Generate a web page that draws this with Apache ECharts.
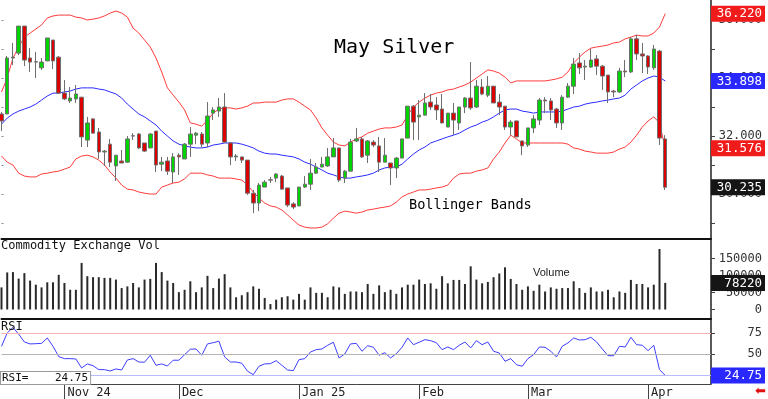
<!DOCTYPE html>
<html>
<head>
<meta charset="utf-8">
<script src="https://cdn.jsdelivr.net/npm/echarts@6/dist/echarts.min.js"></script>
<style>
  html, body { margin: 0; padding: 0; background: #fff; }
  #chart { width: 768px; height: 399px; }
</style>
</head>
<body>
<div id="chart"></div>
<script>
// trading days shown on the axis (the last April days are still empty)
const tradingDays = [
  ['2024-10', [17, 18, 21, 22, 23, 24, 25, 28, 29, 30, 31]],
  ['2024-11', [1, 4, 5, 6, 7, 8, 11, 12, 13, 14, 15, 18, 19, 20, 21, 22, 25, 26, 27, 29]],
  ['2024-12', [2, 3, 4, 5, 6, 9, 10, 11, 12, 13, 16, 17, 18, 19, 20, 23, 24, 26, 27, 30, 31]],
  ['2025-01', [2, 3, 6, 7, 8, 9, 10, 13, 14, 15, 16, 17, 21, 22, 23, 24, 27, 28, 29, 30, 31]],
  ['2025-02', [3, 4, 5, 6, 7, 10, 11, 12, 13, 14, 18, 19, 20, 21, 24, 25, 26, 27, 28]],
  ['2025-03', [3, 4, 5, 6, 7, 10, 11, 12, 13, 14, 17, 18, 19, 20, 21, 24, 25, 26, 27, 28, 31]],
  ['2025-04', [1, 2, 3, 4, 7, 8, 9, 10, 11, 14, 15, 16]],
];
const monthLabels = {
  '2024-11': 'Nov 24', '2024-12': 'Dec', '2025-01': 'Jan 25',
  '2025-02': 'Feb', '2025-03': 'Mar', '2025-04': 'Apr',
};

// [open, close, low, high]
const ohlc = [
  [32.76, 32.52, 32.17, 32.83], [32.76, 34.69, 32.76, 34.76], [34.69, 34.72, 34.45, 35.21], [34.86, 35.79, 34.79, 35.79],
  [35.79, 34.62, 34.41, 35.79], [34.69, 34.55, 34.21, 35.03], [34.56, 34.55, 34.00, 34.90], [34.35, 34.55, 34.28, 34.69],
  [34.59, 35.38, 34.59, 35.38], [35.31, 34.59, 34.31, 35.31], [34.72, 33.48, 33.45, 34.76], [33.48, 33.28, 33.24, 33.93],
  [33.21, 33.31, 33.14, 33.69], [33.28, 33.45, 33.14, 33.76], [33.34, 31.97, 31.62, 33.34], [31.86, 32.45, 31.62, 32.66],
  [32.59, 32.10, 32.10, 32.62], [32.14, 31.45, 31.21, 32.28], [31.45, 31.48, 30.97, 31.52], [31.72, 31.10, 30.93, 31.90],
  [30.97, 31.34, 30.45, 31.34], [31.14, 31.07, 31.07, 31.52], [31.10, 31.90, 31.07, 32.00], [32.00, 32.01, 31.86, 32.10],
  [32.07, 31.59, 31.55, 32.10], [31.76, 31.48, 31.45, 31.76], [31.59, 32.07, 31.59, 32.10], [32.17, 31.00, 30.76, 32.17],
  [31.03, 31.10, 30.79, 31.28], [31.14, 30.79, 30.66, 31.28], [30.76, 31.28, 30.38, 31.41], [31.34, 31.28, 30.66, 31.41],
  [31.21, 31.72, 31.21, 31.76], [31.72, 32.07, 31.28, 32.31], [32.03, 32.10, 31.72, 32.14], [32.07, 31.72, 31.62, 32.14],
  [31.76, 32.69, 31.62, 33.17], [32.79, 32.90, 32.55, 33.00], [32.86, 33.00, 32.66, 33.31], [33.00, 31.79, 31.76, 33.48],
  [31.76, 31.28, 31.00, 31.79], [31.28, 31.31, 31.14, 31.38], [31.28, 31.17, 31.07, 31.28], [31.17, 30.03, 29.97, 31.17],
  [30.03, 29.69, 29.34, 30.14], [29.69, 30.31, 29.41, 30.38], [30.24, 30.41, 30.24, 30.48], [30.49, 30.48, 30.38, 30.59],
  [30.55, 30.69, 30.41, 30.72], [30.62, 30.17, 30.14, 30.66], [30.21, 29.62, 29.55, 30.21], [29.66, 29.55, 29.48, 29.72],
  [29.59, 30.24, 29.59, 30.24], [30.24, 30.34, 30.21, 30.62], [30.34, 30.72, 30.14, 31.21], [30.72, 30.93, 30.69, 31.07],
  [30.93, 31.03, 30.93, 31.28], [30.97, 31.28, 30.93, 31.59], [31.28, 31.59, 31.28, 31.93], [31.59, 30.48, 30.41, 31.59],
  [30.55, 30.79, 30.38, 30.83], [30.79, 31.79, 30.79, 31.90], [31.83, 31.90, 31.79, 32.28], [31.90, 31.28, 31.24, 31.97],
  [31.34, 31.83, 31.07, 31.86], [31.79, 31.69, 31.62, 31.86], [31.66, 31.10, 30.76, 31.97], [31.10, 31.34, 31.10, 31.93],
  [31.07, 30.90, 30.31, 31.07], [30.90, 31.24, 30.55, 31.28], [31.24, 31.90, 31.24, 31.90], [31.93, 33.03, 31.93, 33.03],
  [33.03, 32.48, 31.86, 33.07], [32.66, 32.72, 31.86, 33.24], [32.72, 33.14, 32.72, 33.48], [33.17, 33.00, 32.90, 33.45],
  [33.07, 32.90, 32.55, 33.34], [32.93, 32.45, 32.45, 33.45], [32.31, 32.79, 32.31, 32.79], [32.79, 32.55, 32.03, 33.14],
  [32.45, 33.00, 32.21, 33.00], [33.00, 33.31, 32.79, 33.34], [33.31, 32.97, 32.90, 34.55], [33.00, 33.72, 32.97, 33.93],
  [33.69, 33.45, 33.41, 33.97], [33.41, 33.72, 33.34, 34.07], [33.72, 33.14, 33.14, 33.72], [33.17, 33.00, 32.72, 33.45],
  [33.03, 32.31, 32.21, 33.03], [32.31, 32.48, 32.03, 32.55], [32.52, 31.97, 31.97, 32.52], [31.83, 31.66, 31.34, 31.83],
  [31.69, 32.28, 31.62, 32.28], [32.28, 32.59, 32.10, 32.72], [32.55, 33.24, 32.38, 33.31], [33.24, 33.21, 32.79, 33.34],
  [33.21, 32.90, 32.55, 33.31], [32.93, 32.45, 32.28, 32.97], [32.45, 33.34, 32.21, 33.41], [33.34, 33.72, 33.31, 33.83],
  [33.72, 34.48, 33.45, 34.69], [34.52, 34.35, 34.14, 34.86], [34.38, 34.41, 33.93, 34.62], [34.38, 34.62, 34.35, 35.00],
  [34.66, 34.41, 34.10, 34.79], [34.41, 34.07, 33.59, 34.45], [34.10, 33.52, 33.14, 34.10], [33.55, 33.52, 33.34, 33.59],
  [33.52, 34.24, 33.48, 34.35], [34.24, 34.21, 34.03, 34.62], [34.21, 35.35, 34.17, 35.41], [35.35, 34.83, 34.62, 35.48],
  [34.83, 34.76, 34.17, 35.21], [34.76, 34.38, 34.14, 34.79], [34.35, 35.00, 34.28, 35.14], [34.93, 31.93, 31.69, 34.97],
  [31.90, 30.235, 30.14, 32.03],
];

const bandUpper = [
  33.52, 34.00, 34.69, 35.07, 35.41, 35.55, 35.69, 35.83, 36.07, 36.14,
  36.17, 36.17, 36.17, 36.10, 36.07, 36.00, 36.03, 36.07, 36.14, 36.24,
  36.31, 36.24, 36.10, 35.72, 35.55, 35.31, 35.07, 34.69, 34.21, 33.66,
  33.41, 33.17, 32.90, 32.45, 32.41, 32.34, 32.55, 32.79, 32.93, 32.97,
  32.97, 32.93, 32.97, 33.03, 33.14, 33.14, 33.17, 33.17, 33.17, 33.24,
  33.28, 33.28, 33.17, 33.03, 32.90, 32.62, 32.28, 32.03, 31.79, 31.69,
  31.66, 31.79, 31.90, 31.97, 32.10, 32.17, 32.24, 32.28, 32.28, 32.31,
  32.38, 32.72, 33.00, 33.17, 33.31, 33.41, 33.48, 33.52, 33.59, 33.62,
  33.69, 33.76, 33.86, 34.00, 34.14, 34.28, 34.24, 34.17, 34.03, 33.83,
  33.90, 33.90, 33.90, 33.90, 33.90, 33.90, 33.93, 33.97, 34.03, 34.21,
  34.52, 34.72, 34.90, 35.03, 35.07, 35.10, 35.14, 35.21, 35.24, 35.35,
  35.41, 35.48, 35.45, 35.45, 35.55, 35.76, 36.22,
];
const bandMiddle = [
  32.41, 32.62, 32.76, 32.86, 32.93, 33.00, 33.10, 33.24, 33.38, 33.48,
  33.48, 33.52, 33.55, 33.62, 33.66, 33.66, 33.66, 33.62, 33.59, 33.52,
  33.45, 33.31, 33.10, 32.93, 32.76, 32.66, 32.52, 32.38, 32.17, 32.00,
  31.83, 31.72, 31.66, 31.62, 31.59, 31.59, 31.62, 31.69, 31.72, 31.76,
  31.76, 31.76, 31.72, 31.66, 31.59, 31.48, 31.41, 31.38, 31.38, 31.34,
  31.31, 31.28, 31.21, 31.10, 31.03, 30.93, 30.83, 30.72, 30.66, 30.59,
  30.55, 30.55, 30.59, 30.62, 30.66, 30.72, 30.83, 30.90, 30.93, 30.93,
  31.03, 31.21, 31.38, 31.52, 31.62, 31.76, 31.83, 31.90, 31.97, 32.03,
  32.10, 32.21, 32.31, 32.38, 32.48, 32.55, 32.66, 32.79, 32.90, 32.93,
  32.93, 32.86, 32.83, 32.79, 32.83, 32.83, 32.83, 32.83, 32.86, 32.93,
  33.00, 33.03, 33.10, 33.14, 33.17, 33.21, 33.24, 33.28, 33.31, 33.41,
  33.62, 33.76, 33.90, 34.00, 34.07, 34.03, 33.898,
];
const bandLower = [
  31.31, 31.10, 31.00, 30.72, 30.62, 30.59, 30.59, 30.69, 30.72, 30.76,
  30.79, 30.86, 30.93, 31.21, 31.31, 31.34, 31.28, 31.17, 31.00, 30.76,
  30.55, 30.31, 30.17, 30.14, 30.07, 30.03, 30.00, 30.00, 30.24, 30.31,
  30.38, 30.41, 30.52, 30.72, 30.72, 30.72, 30.66, 30.62, 30.55, 30.55,
  30.55, 30.52, 30.48, 30.31, 30.07, 29.86, 29.69, 29.59, 29.55, 29.45,
  29.28, 29.10, 28.93, 28.86, 28.83, 28.83, 28.86, 28.97, 29.17, 29.34,
  29.41, 29.38, 29.34, 29.38, 29.45, 29.48, 29.52, 29.55, 29.59, 29.72,
  29.90, 30.00, 30.07, 30.14, 30.14, 30.17, 30.21, 30.24, 30.31, 30.55,
  30.69, 30.72, 30.72, 30.79, 30.83, 30.90, 31.21, 31.45, 31.76, 32.03,
  31.90, 31.76, 31.76, 31.76, 31.76, 31.76, 31.76, 31.76, 31.76, 31.72,
  31.59, 31.55, 31.48, 31.45, 31.41, 31.41, 31.41, 31.45, 31.55, 31.62,
  31.79, 32.03, 32.31, 32.52, 32.66, 32.45, 31.576,
];

const volume = [
  65000, 109000, 110000, 91000, 107000, 85000, 73000, 65000, 80000, 80000,
  102000, 78000, 58000, 58000, 137000, 98000, 95000, 95000, 93000, 93000,
  88000, 63000, 68000, 78000, 65000, 88000, 90000, 137000, 110000, 85000,
  78000, 51000, 58000, 83000, 51000, 65000, 99000, 63000, 91000, 104000,
  65000, 36000, 42000, 51000, 68000, 61000, 34000, 16000, 29000, 36000,
  39000, 29000, 46000, 29000, 65000, 49000, 49000, 36000, 68000, 65000,
  46000, 53000, 53000, 51000, 75000, 46000, 71000, 51000, 58000, 46000,
  65000, 73000, 73000, 88000, 75000, 77000, 61000, 98000, 77000, 87000,
  87000, 75000, 127000, 88000, 77000, 81000, 95000, 106000, 124000, 90000,
  75000, 58000, 68000, 55000, 73000, 53000, 65000, 61000, 63000, 63000,
  83000, 63000, 49000, 65000, 53000, 53000, 58000, 36000, 53000, 49000,
  87000, 75000, 75000, 65000, 73000, 178000, 78220,
];

const rsi = [
  59.5, 75.4, 82, 74, 64.6, 62.3, 62.6, 63, 69.4, 59.5,
  47.2, 44.8, 44.8, 44.4, 33.7, 38.5, 36.4, 31.7, 31.7, 30.1,
  32.5, 31.3, 43.2, 44.8, 40.8, 40.5, 48.8, 36.9, 38.5, 36.1,
  42.9, 42.9, 49.5, 56, 56.3, 48.8, 62.3, 63.8, 65.5, 46.8,
  40.8, 40.8, 39.3, 29.8, 25.7, 35.7, 38.5, 38.8, 42.4, 36.9,
  31.3, 30.5, 43.6, 44.8, 52.7, 55.5, 56.3, 60.7, 64.3, 45.6,
  50.4, 62.3, 63, 53.6, 60.2, 58.3, 48.8, 51.9, 45.6, 50.7,
  58.3, 69.4, 61.4, 64.3, 67.4, 66.2, 63.8, 55.5, 58.7, 55.5,
  60.7, 64.6, 57.5, 66.2, 61.4, 64.6, 53.6, 51.5, 41.7, 44.8,
  37.6, 35.7, 44.8, 49.5, 58.7, 58.3, 53.6, 46.8, 59.5, 63.5,
  69.4, 67, 67.4, 70.2, 64.6, 56.3, 48.3, 48.3, 59.5, 58.7,
  70.2, 61.4, 60.7, 54.3, 60.7, 31.7, 24.75,
];

const priceTicks = [29, 30, 31, 32, 33, 34, 35, 36];
const priceLabels = [30, 32, 34, 36];
const volumeLabels = [0, 50000, 100000, 150000];
const rsiLabels = [50, 75];
const rsiLevels = [75, 50, 25];

// last values shown in the boxes on the right
const priceTags = [36.22, 33.898, 31.576, 30.235];
const priceTagKinds = ['red', 'blue', 'red', 'black'];
const volumeTags = [78220];
const rsiTags = [24.75];

const MONO = '"DejaVu Sans Mono", monospace';
const AXIS_TEXT = { fontFamily: MONO, fontSize: 12, color: '#333' };

const dates = tradingDays.flatMap(([month, days]) =>
  days.map((d) => month + '-' + String(d).padStart(2, '0')));
const monthStarts = new Set(
  dates.map((d, i) => (i > 0 && d.slice(0, 7) !== dates[i - 1].slice(0, 7) ? i : -1)).filter((i) => i >= 0),
);
const isMonthStart = (idx) => monthStarts.has(idx);

const tagStyle = (bg) => ({
  backgroundColor: bg, color: '#fff', fontFamily: MONO, fontSize: 12.5,
  width: 48, align: 'right', padding: [2, 3, 1, 3],
});
const tagRich = { red: tagStyle('#f01c1c'), blue: tagStyle('#2828ff'), black: tagStyle('#151515') };

function tagAxis(gridIndex, min, max, values, kinds, digits) {
  return {
    type: 'value', gridIndex, position: 'right', min, max, z: 10,
    axisLine: { show: false }, axisTick: { show: false }, splitLine: { show: false },
    axisLabel: {
      customValues: values, margin: 54, align: 'right',
      formatter: (v) => {
        const i = values.findIndex((t) => Math.abs(t - v) < 1e-6);
        return '{' + kinds[Math.max(i, 0)] + '|' + v.toFixed(digits) + '}';
      },
      rich: tagRich,
    },
  };
}

function plainXAxis(gridIndex, lineWidth) {
  return {
    type: 'category', gridIndex, data: dates, boundaryGap: false,
    axisLine: { show: true, onZero: false, lineStyle: { color: '#111', width: lineWidth } },
    axisTick: { show: false }, axisLabel: { show: false }, splitLine: { show: false },
  };
}

const PRICE_MIN = 28.45, PRICE_MAX = 36.69;
const VOL_MIN = -27940, VOL_MAX = 204400;
const RSI_MIN = 14.6, RSI_MAX = 90.8;

const chart = echarts.init(document.getElementById('chart'), null, { renderer: 'canvas' });

chart.setOption({
  animation: false,
  backgroundColor: '#fff',
  title: [
    { text: 'May Silver', left: 334, top: 38, padding: 0,
      textStyle: { fontFamily: MONO, fontSize: 20, fontWeight: 'normal', color: '#000' } },
    { text: 'Bollinger Bands', left: 409, top: 198, padding: 0,
      textStyle: { fontFamily: MONO, fontSize: 13.6, fontWeight: 'normal', color: '#000' } },
    { text: 'Commodity Exchange Vol', left: 1, top: 240, padding: 0,
      textStyle: { fontFamily: MONO, fontSize: 12, fontWeight: 'normal', color: '#111' } },
    { text: 'Volume', left: 533, top: 267, padding: 0,
      textStyle: { fontFamily: '"Liberation Sans", Arial, sans-serif', fontSize: 11, fontWeight: 'normal', color: '#222' } },
    { text: 'RSI', left: 1, top: 321, padding: 0,
      textStyle: { fontFamily: MONO, fontSize: 12, fontWeight: 'normal', color: '#111' } },
  ],
  graphic: [
    {
      type: 'text', left: 0, top: 371, z: 20,
      style: {
        text: 'RSI=    ' + rsiTags[0].toFixed(2), font: '11px "DejaVu Sans Mono"', fill: '#111',
        backgroundColor: '#fff', borderColor: '#999', borderWidth: 1, padding: [1, 2, 0, 1],
      },
    },
    {
      type: 'text', left: 755, top: 385, z: 20,
      style: { text: '\u2b05', font: '13px "DejaVu Sans"', fill: '#e01010' },
    },
  ],
  grid: [
    { left: 1.5, right: 55, top: 0, height: 239 },
    { left: 1.5, right: 55, top: 240, height: 79 },
    { left: 1.5, right: 55, top: 320, height: 64 },
  ],
  xAxis: [
    plainXAxis(0, 2),
    plainXAxis(1, 2),
    {
      type: 'category', gridIndex: 2, data: dates, boundaryGap: false,
      axisLine: { show: true, onZero: false, lineStyle: { color: '#444', width: 1 } },
      axisTick: { show: true, interval: isMonthStart, length: 15, lineStyle: { color: '#444' } },
      axisLabel: {
        show: true, interval: isMonthStart, align: 'left', margin: 3, padding: [0, 0, 0, 3],
        formatter: (v) => monthLabels[v.slice(0, 7)] || '',
        fontFamily: MONO, fontSize: 12, color: '#222',
      },
      splitLine: { show: false },
    },
  ],
  yAxis: [
    {
      type: 'value', gridIndex: 0, position: 'right', min: PRICE_MIN, max: PRICE_MAX,
      axisLine: { show: true, lineStyle: { color: '#222', width: 1.5 } },
      axisTick: { show: true, customValues: priceTicks, length: 4, lineStyle: { color: '#444' } },
      axisLabel: { customValues: priceLabels, formatter: (v) => v.toFixed(3), align: 'right', margin: 51, ...AXIS_TEXT },
      splitLine: { show: false },
    },
    tagAxis(0, PRICE_MIN, PRICE_MAX, priceTags, priceTagKinds, 3),
    {
      type: 'value', gridIndex: 0, position: 'left', min: PRICE_MIN, max: PRICE_MAX,
      axisLine: { show: false },
      axisTick: { show: true, inside: true, customValues: priceTicks, length: 2, lineStyle: { color: '#888' } },
      axisLabel: { show: false }, splitLine: { show: false },
    },
    {
      type: 'value', gridIndex: 1, position: 'right', min: VOL_MIN, max: VOL_MAX,
      axisLine: { show: true, lineStyle: { color: '#222', width: 1.5 } },
      axisTick: { show: true, customValues: volumeLabels, length: 4, lineStyle: { color: '#444' } },
      axisLabel: { customValues: volumeLabels, formatter: (v) => String(v), align: 'right', margin: 51, ...AXIS_TEXT },
      splitLine: { show: false },
    },
    tagAxis(1, VOL_MIN, VOL_MAX, volumeTags, ['black'], 0),
    {
      type: 'value', gridIndex: 2, position: 'right', min: RSI_MIN, max: RSI_MAX,
      axisLine: { show: true, lineStyle: { color: '#222', width: 1.5 } },
      axisTick: { show: true, customValues: rsiLevels, length: 4, lineStyle: { color: '#444' } },
      axisLabel: { customValues: rsiLabels, formatter: (v) => String(v), align: 'right', margin: 51, ...AXIS_TEXT },
      splitLine: { show: false },
    },
    tagAxis(2, RSI_MIN, RSI_MAX, rsiTags, ['blue'], 2),
  ],
  series: [
    { type: 'line', name: 'upper', xAxisIndex: 0, yAxisIndex: 0, data: bandUpper, symbol: 'none',
      lineStyle: { color: '#ff3b3b', width: 1 }, z: 1 },
    { type: 'line', name: 'middle', xAxisIndex: 0, yAxisIndex: 0, data: bandMiddle, symbol: 'none',
      lineStyle: { color: '#2b2bff', width: 1 }, z: 1 },
    { type: 'line', name: 'lower', xAxisIndex: 0, yAxisIndex: 0, data: bandLower, symbol: 'none',
      lineStyle: { color: '#ff3b3b', width: 1 }, z: 1 },
    {
      type: 'candlestick', name: 'May Silver', xAxisIndex: 0, yAxisIndex: 0, data: ohlc,
      barWidth: 4, z: 3,
      itemStyle: { color: '#00d400', color0: '#dd0000', borderColor: '#6e6e6e', borderColor0: '#6e6e6e', borderWidth: 1 },
    },
    {
      type: 'bar', name: 'Volume', xAxisIndex: 1, yAxisIndex: 3, data: volume,
      barWidth: 2, itemStyle: { color: '#2a2a2a' },
    },
    {
      type: 'line', name: 'RSI', xAxisIndex: 2, yAxisIndex: 5, data: rsi, symbol: 'none',
      lineStyle: { color: '#3d3dff', width: 1 }, z: 3,
      markLine: {
        silent: true, symbol: ['none', 'none'], label: { show: false },
        data: [
          { yAxis: rsiLevels[0], lineStyle: { color: '#f6b4b4', width: 1, type: 'solid' } },
          { yAxis: rsiLevels[1], lineStyle: { color: '#b4b4b4', width: 1, type: 'solid' } },
          { yAxis: rsiLevels[2], lineStyle: { color: '#b8bcff', width: 1, type: 'solid' } },
        ],
      },
    },
  ],
});
</script>
</body>
</html>
